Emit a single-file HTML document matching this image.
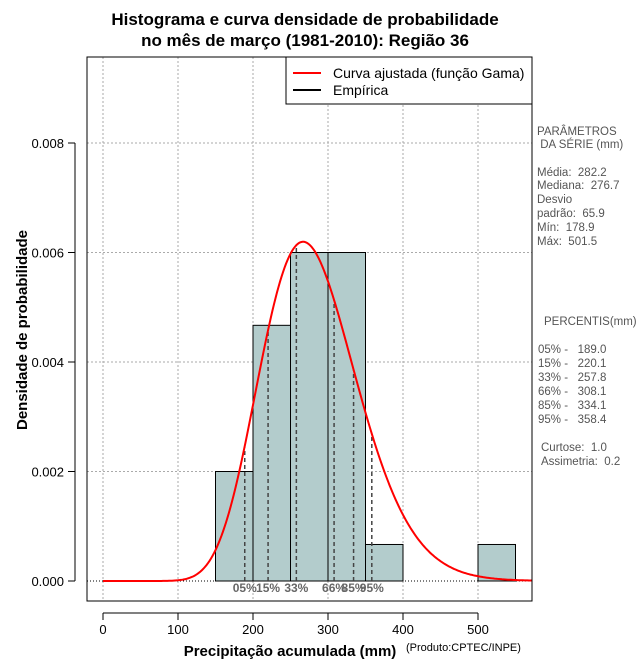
<!DOCTYPE html>
<html><head><meta charset="utf-8"><style>
body{margin:0;background:#fff;}
svg text{font-family:"Liberation Sans",sans-serif;white-space:pre;}
</style></head><body>
<svg id="c" width="640" height="660" xmlns="http://www.w3.org/2000/svg">
<text x="305" y="25" text-anchor="middle" font-size="17" font-weight="bold">Histograma e curva densidade de probabilidade</text>
<text x="305" y="46" text-anchor="middle" font-size="17" font-weight="bold">no mês de março (1981-2010): Região 36</text>
<g id="grid"></g><g id="bars"></g><g id="pct"></g><g id="curve"></g><g id="axes"></g>
<rect x="87" y="57" width="445" height="544" fill="none" stroke="#000"/>
<g>
<rect x="286" y="57" width="246" height="47" fill="#fff" stroke="#000"/>
<line x1="293" y1="73" x2="321" y2="73" stroke="red" stroke-width="2"/>
<text x="333" y="78" font-size="14">Curva ajustada (função Gama)</text>
<line x1="293" y1="90" x2="321" y2="90" stroke="#000" stroke-width="2"/>
<text x="333" y="95" font-size="14">Empírica</text>
</g>
<text x="290" y="656" text-anchor="middle" font-size="15" font-weight="bold">Precipitação acumulada (mm)</text>
<text x="406" y="651" font-size="11">(Produto:CPTEC/INPE)</text>
<text transform="translate(27,330) rotate(-90)" text-anchor="middle" font-size="15" font-weight="bold">Densidade de probabilidade</text>
<g font-size="11.5" fill="#555">
<text x="537" y="135">PARÂMETROS</text><text x="537" y="148"> DA SÉRIE (mm)</text>
<text x="537" y="176">Média:  282.2</text><text x="537" y="189">Mediana:  276.7</text>
<text x="537" y="203">Desvio</text><text x="537" y="217">padrão:  65.9</text>
<text x="537" y="231">Mín:  178.9</text><text x="537" y="245">Máx:  501.5</text>
<text x="544" y="325">PERCENTIS(mm)</text>
<text x="538" y="353">05% -   189.0</text><text x="538" y="367">15% -   220.1</text>
<text x="538" y="381">33% -   257.8</text><text x="538" y="395">66% -   308.1</text>
<text x="538" y="409">85% -   334.1</text><text x="538" y="423">95% -   358.4</text>
<text x="541" y="451">Curtose:  1.0</text><text x="541" y="465">Assimetria:  0.2</text>
</g>
</svg>
<script>
const binStarts=[150,200,250,300,350,500];
const binDensity=[0.002,0.00467,0.006,0.006,0.000667,0.000667];
const binWidth=50;
const pctLabels=["05%","15%","33%","66%","85%","95%"];
const pctValues=[189.0,220.1,257.8,308.1,334.1,358.4];
const meanVal=282.2, sdVal=65.9;
const xTicks=[0,100,200,300,400,500];
const yTicks=[0,0.002,0.004,0.006,0.008];
const yTickLabels=["0.000","0.002","0.004","0.006","0.008"];

const NS="http://www.w3.org/2000/svg";
const X=v=>103+v*0.75, Y=v=>581-v*54750;
function mk(p,t,a){const e=document.createElementNS(NS,t);for(const k in a)e.setAttribute(k,a[k]);document.getElementById(p).appendChild(e);return e;}
function lgamma(z){const g=7,c=[0.99999999999980993,676.5203681218851,-1259.1392167224028,771.32342877765313,-176.61502916214059,12.507343278686905,-0.13857109526572012,9.9843695780195716e-6,1.5056327351493116e-7];z-=1;let a=c[0];const t=z+g+0.5;for(let i=1;i<9;i++)a+=c[i]/(z+i);return 0.5*Math.log(2*Math.PI)+(z+0.5)*Math.log(t)-t+Math.log(a);}
const k=(meanVal/sdVal)**2, th=sdVal*sdVal/meanVal, lg=lgamma(k);
const dens=x=>x<=0?0:Math.exp((k-1)*Math.log(x)-x/th-lg-k*Math.log(th));

xTicks.forEach(v=>{let l=mk('grid','line',{x1:X(v),x2:X(v),y1:57,y2:601,stroke:'#aaa','stroke-dasharray':'2,2'});});
yTicks.forEach(v=>{let l=mk('grid','line',{x1:87,x2:532,y1:Y(v),y2:Y(v),stroke:v===0?'#000':'#aaa','stroke-dasharray':v===0?'1,2':'2,2'});});
binStarts.forEach((s,i)=>{let r=mk('bars','rect',{x:X(s),y:Y(binDensity[i]),width:binWidth*0.75,height:Y(0)-Y(binDensity[i]),fill:'#b3cccc',stroke:'#000','stroke-width':1});});
pctValues.forEach((v,i)=>{let l=mk('pct','line',{x1:X(v),x2:X(v),y1:Y(0),y2:Y(dens(v)),stroke:'#444','stroke-width':1.5,'stroke-dasharray':'4,3'});
let t=mk('pct','text',{x:X(v),y:592,'text-anchor':'middle','font-size':12,'font-weight':'bold',fill:'#666'});t.textContent=pctLabels[i];});
let d='';for(let x=0;x<=572;x+=2){d+=(x?'L':'M')+X(x).toFixed(1)+','+Y(dens(x)).toFixed(1);}
let p=mk('curve','path',{d:d,fill:'none',stroke:'red','stroke-width':2});
mk('axes','line',{x1:X(0),x2:X(500),y1:613,y2:613,stroke:'#000'});
xTicks.forEach(v=>{mk('axes','line',{x1:X(v),x2:X(v),y1:613,y2:620,stroke:'#000'});let t=mk('axes','text',{x:X(v),y:634,'text-anchor':'middle','font-size':13});t.textContent=v;});
mk('axes','line',{x1:75,x2:75,y1:Y(0),y2:Y(0.008),stroke:'#000'});
yTicks.forEach((v,i)=>{mk('axes','line',{x1:68,x2:75,y1:Y(v),y2:Y(v),stroke:'#000'});let t=mk('axes','text',{x:64,y:Y(v)+5,'text-anchor':'end','font-size':13});t.textContent=yTickLabels[i];});
</script>
</body></html>
